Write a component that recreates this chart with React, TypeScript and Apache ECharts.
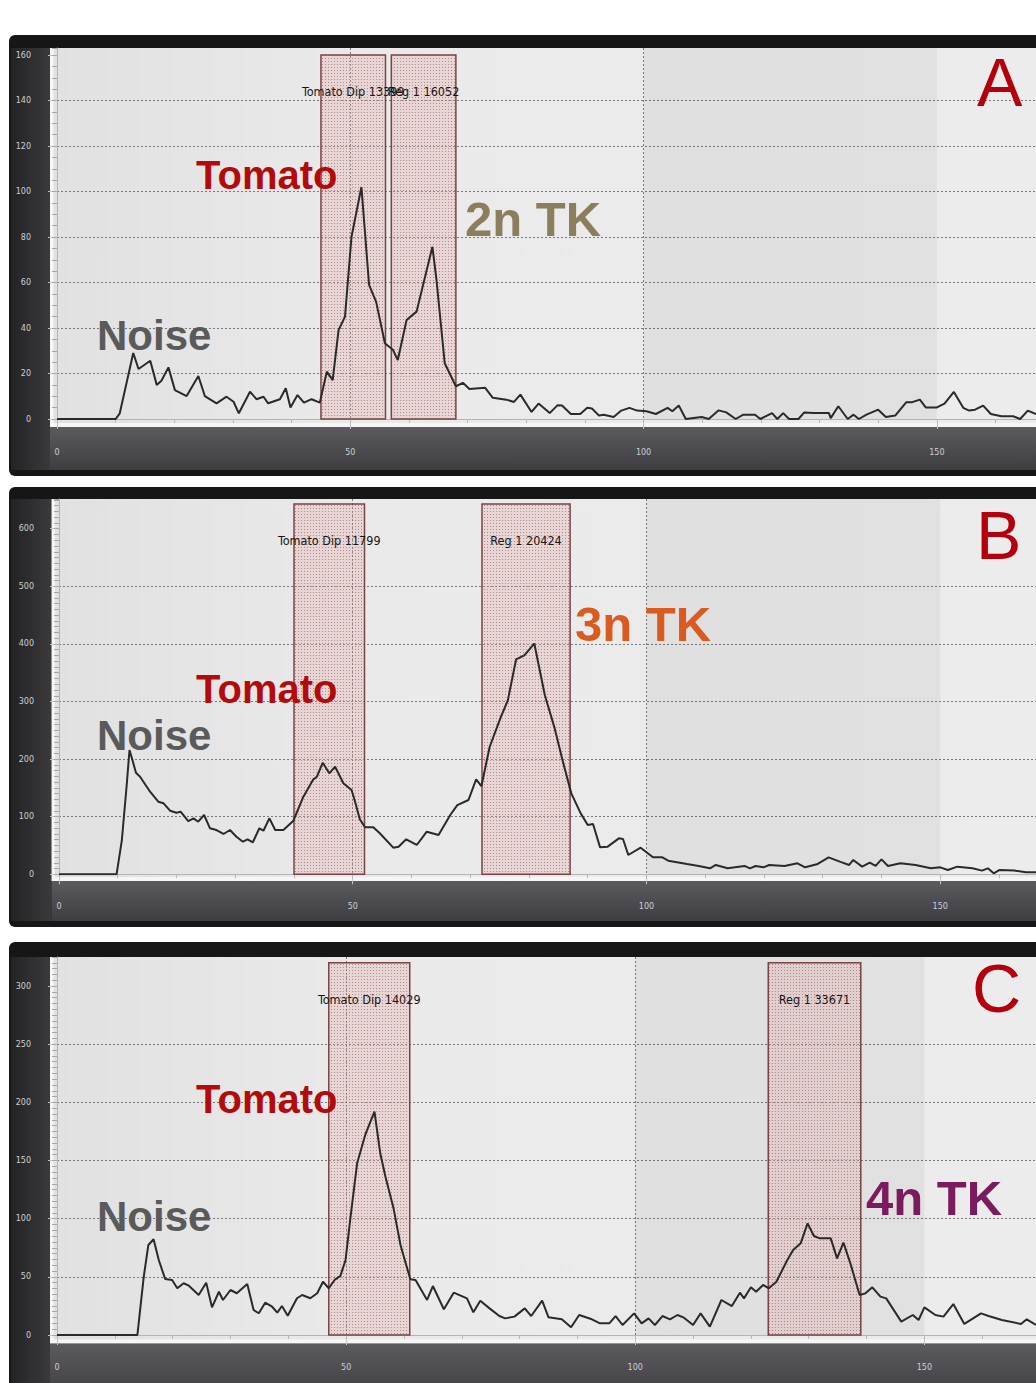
import { useEffect, useRef } from 'react';
import * as echarts from 'echarts';

// ---------- DATA ----------
const histA: number[][] = [
  [0, 0], [10, 0], [10.7, 2.5], [13, 29], [13.9, 22], [15.9, 25.6], [17, 15], [17.8, 16.8], [19, 22.7], [20.1, 12.7],
  [22.1, 10.1], [24.1, 18.9], [25.2, 10.1], [27.2, 6.9], [28.9, 9.8], [30.1, 7.6], [31, 2.5], [32.9, 12], [34, 8.7],
  [35.2, 9.8], [36, 6.9], [38, 8.7], [39, 13.5], [39.8, 5.1], [41, 10.5], [42.1, 7.2], [43.4, 8.7], [44.8, 7.2],
  [46, 20.8], [47, 17.1], [48, 39.1], [49.1, 45], [50.2, 80], [51.9, 102], [53.2, 59], [54.4, 51.6], [55.9, 33.3],
  [57.3, 30.3], [58.1, 25.9], [59.6, 43.5], [61.3, 47.2], [64, 75.7], [64.7, 61], [66.1, 24.5], [68, 14.4],
  [69.2, 15.9], [70.3, 13.2], [73, 13.7], [74.3, 9.3], [76.6, 8.5], [77.9, 7.5], [79, 10.7], [80.9, 3.1], [82.1, 6.8],
  [84, 2.6], [85.3, 6], [86.1, 5.9], [87.6, 2.2], [89.2, 2.2], [90.4, 4.9], [91.2, 4.6], [92.4, 1.5], [93.2, 1.9],
  [94.9, 0.9], [96.2, 3.7], [97.6, 4.9], [98.9, 3.7], [100.5, 3.4], [102.1, 2.2], [104.1, 4.9], [104.9, 3.4],
  [106, 5.9], [107.2, 0], [109.9, 0.9], [111.1, 0], [112.8, 3.8], [114.1, 2.9], [115.7, 0], [117, 1.9], [119, 1.9],
  [119.9, 0], [121.9, 2.6], [122.8, 0], [123.8, 2.6], [124.8, 0], [126.4, 0], [127.4, 2.9], [129, 2.6], [131.6, 2.6],
  [131.9, 0.4], [133.2, 5.6], [134.8, 0], [135.8, 1.9], [136.7, 0], [138, 1.9], [140, 4.1], [141.3, 0.9], [142.9, 1.5],
  [144.8, 7.4], [145.8, 7.4], [147.1, 8.5], [148.1, 5.1], [150, 5.1], [151.3, 6.8], [152.9, 11.9], [154.5, 4.9],
  [155.5, 3.7], [156.5, 4.1], [157.9, 5.9], [159.2, 2.2], [161, 1.2], [163, 1.2], [164.2, 0], [165.5, 3.7], [166.9, 2.2],
];

const histB: number[][] = [
  [0, 0], [9.8, 0], [10.7, 59.5], [11.5, 152], [12, 215.8], [12.5, 198.4], [13.1, 176.4], [13.8, 169.4], [15.5, 143.4],
  [16.9, 126], [17.8, 123.3], [18.9, 110.4], [20, 107], [20.7, 108.7], [22, 92.5], [22.9, 97.2], [23.7, 91.3],
  [24.7, 103], [25.7, 79.9], [26.8, 76.9], [28, 70], [29.1, 76.9], [30.2, 65.3], [31.3, 56.6], [32.1, 60.8], [33, 55.6],
  [34.1, 79.9], [34.8, 75.7], [35.8, 97.2], [36.8, 76.9], [38.2, 76.9], [39.9, 93.1], [41.6, 134.7], [43.3, 164.9],
  [43.9, 169.4], [44.9, 193.8], [46, 175.3], [47, 186.8], [48.4, 158], [49.8, 146.4], [50.4, 126], [51.2, 95.5],
  [52.1, 81.6], [53.5, 81.6], [54.6, 71.2], [56.9, 46.2], [57.8, 47.9], [59.1, 60.8], [60.9, 50.9], [62.6, 74],
  [64.6, 68.2], [66.6, 103], [67.8, 120], [69.7, 129], [71, 164.8], [71.9, 153], [73.3, 221], [75.2, 273], [76.4, 302],
  [77.8, 373], [79.2, 380], [80.9, 400.6], [82.7, 311], [84.3, 256], [85.7, 198.3], [87.2, 140.5], [88.8, 105.8],
  [90, 85.5], [90.9, 87.3], [92.1, 46.8], [93.4, 48], [95.3, 62.4], [96, 61.3], [96.9, 33.5], [99, 46.2], [101.1, 29.5],
  [102.7, 29.5], [103.7, 23.7], [106.9, 17.9], [108.9, 14.5], [110.8, 10.4], [111.8, 16.2], [113.8, 10.4],
  [116.7, 14.5], [117.6, 10.4], [118.6, 14.5], [119.9, 12.1], [120.9, 16.2], [123.5, 14.5], [125.7, 19.1], [127, 12.1],
  [129, 17.3], [131, 29.5], [132.9, 22], [134.5, 16.2], [135.2, 24.9], [136.7, 13.3], [138, 20.2], [139, 14.5],
  [140, 26], [141.1, 14.5], [143.2, 19.1], [145.8, 16.2], [148.4, 10.4], [150, 12.1], [151.3, 7.5], [152.9, 13.3],
  [155.5, 10.4], [157.1, 6.4], [158.1, 10.4], [159.1, 1.7], [160.1, 7.5], [162.6, 6.4], [164.6, 3.5], [166.3, 3.5],
];

const histC: number[][] = [
  [0, 0], [13.9, 0], [15, 50], [15.8, 77.4], [16.7, 82.3], [17.6, 64.5], [18.7, 48.2], [19.9, 47.3], [20.8, 40.2],
  [21.9, 44.5], [22.8, 42.4], [24.5, 34.4], [25.8, 45], [26.8, 23.8], [28, 37.2], [28.7, 30.1], [30, 38.7], [31.1, 35.9],
  [32.9, 43.9], [34, 21.5], [34.9, 18.7], [36, 27.8], [37.2, 24.3], [38.1, 19.2], [38.9, 24.9], [39.9, 16.6],
  [41.5, 31.6], [42.4, 34.4], [43.8, 31.6], [45, 35.9], [46, 45.8], [47, 40.2], [48.1, 47.9], [49, 50.7], [49.9, 64.5],
  [50.7, 98.9], [51.9, 147.6], [53.3, 172], [54.9, 192], [55.9, 156.2], [56.8, 136.1], [58.2, 108.9], [59.4, 77.4],
  [61.1, 47.9], [62, 47.3], [64, 30.1], [65, 42.1], [66.9, 22.1], [68.6, 36.4], [70.9, 31.5], [72, 19.5], [73.2, 29.5],
  [74.8, 22.9], [76.5, 16.3], [77.5, 14.3], [79.1, 15.8], [80.9, 22.9], [82, 16.3], [83.9, 29.5], [85, 15.2],
  [87.3, 13.5], [88.9, 6.6], [90.3, 17.2], [92.5, 13.5], [93.9, 10], [95.5, 10], [96.6, 16.3], [97.8, 8.6],
  [99.8, 18.6], [101.1, 10], [102.3, 14.3], [103.4, 8.6], [104.7, 16.3], [106, 13.5], [107.3, 17.2], [108.3, 15.2],
  [110, 8.6], [111.3, 18.6], [112.9, 7.2], [114.9, 30.1], [116.7, 24.9], [118.1, 36.4], [118.8, 31.5], [120, 41],
  [120.9, 37.2], [122.1, 43], [123.1, 40.1], [124.4, 45.8], [126.3, 64.5], [127.3, 73.1], [128.6, 78.8], [129.8, 96],
  [130.9, 85.1], [131.9, 83.1], [133.8, 83.1], [134.9, 65.9], [136, 79.4], [137.2, 61.6], [138.8, 34.4], [139.8, 35.8],
  [141, 41], [142.4, 33], [143.4, 31.5], [146, 11.5], [148, 17.2], [149, 12.9], [150, 23.8], [151.9, 17.2],
  [153.3, 15.8], [155, 26.6], [156.9, 9.5], [159.8, 18.6], [161.1, 16.3], [163.4, 12.9], [166.7, 9.5], [167.7, 13.5],
  [169.3, 8.6],
];

const xTickLabels = [0, 50, 100, 150];
const yTickLabelsA = [0, 20, 40, 60, 80, 100, 120, 140, 160];
const yTickLabelsB = [0, 100, 200, 300, 400, 500, 600];
const yTickLabelsC = [0, 50, 100, 150, 200, 250, 300];

const regionNamesA = ['Tomato Dip 13399', 'Reg 1 16052'];
const regionRangesA = [[45, 56], [57, 68]];
const regionTopA = 160;
const regionNamesB = ['Tomato Dip 11799', 'Reg 1 20424'];
const regionRangesB = [[40, 52], [72, 87]];
const regionTopB = 643;
const regionNamesC = ['Tomato Dip 14029', 'Reg 1 33671'];
const regionRangesC = [[47, 61], [123, 139]];
const regionTopC = 320;

const shadedBand = [100, 150];

// ---------- LAYOUT ----------
const PANELS = [
  {
    data: histA, yTicks: yTickLabelsA, names: regionNamesA, ranges: regionRangesA, top: regionTopA,
    gridLeft: 57, gridTop: 48, gridWidth: 979, gridHeight: 371, yMax: 163.1, xMax: 166.9, yStep: 20, yMinor: 5,
    yOffset: 13, xOffset: 13, xLabelMargin: 16, frameTop: 35, frameBottom: 476, plotBottom: 423, bandBottom: 470, whiteLeft: 50,
  },
  {
    data: histB, yTicks: yTickLabelsB, names: regionNamesB, ranges: regionRangesB, top: regionTopB,
    gridLeft: 59, gridTop: 499, gridWidth: 977, gridHeight: 375.3, yMax: 651.6, xMax: 166.3, yStep: 100, yMinor: 10,
    yOffset: 12, xOffset: 11, xLabelMargin: 17, frameTop: 487, frameBottom: 927, plotBottom: 877, bandBottom: 921, whiteLeft: 51.5,
  },
  {
    data: histC, yTicks: yTickLabelsC, names: regionNamesC, ranges: regionRangesC, top: regionTopC,
    gridLeft: 57, gridTop: 957, gridWidth: 979, gridHeight: 378, yMax: 325, xMax: 169.3, yStep: 50, yMinor: 5,
    yOffset: 13, xOffset: 12, xLabelMargin: 16, frameTop: 942, frameBottom: 1400, plotBottom: 1339.5, bandBottom: 1400, whiteLeft: 50,
  },
];

const BIG_FONT = '"Liberation Sans", Arial, sans-serif';
const ANNOTATIONS = [
  { text: 'Tomato', x: 196, y: 175, size: 40, weight: 'bold', color: '#b30b0b' },
  { text: 'Noise', x: 97, y: 335, size: 42, weight: 'bold', color: '#5a5a5a' },
  { text: '2n TK', x: 465, y: 219, size: 49, weight: 'bold', color: '#8b7e5c' },
  { text: 'A', x: 977, y: 82, size: 68, weight: 'normal', color: '#b3000c' },
  { text: 'Tomato', x: 196, y: 689, size: 40, weight: 'bold', color: '#b30b0b' },
  { text: 'Noise', x: 97, y: 735, size: 42, weight: 'bold', color: '#5a5a5a' },
  { text: '3n TK', x: 575, y: 624, size: 49, weight: 'bold', color: '#d95b1f' },
  { text: 'B', x: 976, y: 535, size: 68, weight: 'normal', color: '#b3000c' },
  { text: 'Tomato', x: 196, y: 1099, size: 40, weight: 'bold', color: '#b30b0b' },
  { text: 'Noise', x: 97, y: 1216, size: 42, weight: 'bold', color: '#5a5a5a' },
  { text: '4n TK', x: 866, y: 1198, size: 49, weight: 'bold', color: '#7b1a5c' },
  { text: 'C', x: 972, y: 988, size: 68, weight: 'normal', color: '#b3000c' },
];

function makePattern() {
  const c = document.createElement('canvas');
  c.width = 3;
  c.height = 3;
  const ctx = c.getContext('2d');
  if (ctx) {
    ctx.fillStyle = 'rgba(222,170,170,0.30)';
    ctx.fillRect(0, 0, 3, 3);
    ctx.fillStyle = 'rgba(160,80,80,0.60)';
    ctx.fillRect(1, 1, 1, 1);
  }
  return { image: c.toDataURL(), repeat: 'repeat', imageWidth: 3, imageHeight: 3 } as any;
}

export default function App() {
  const ref = useRef<HTMLDivElement>(null);

  useEffect(() => {
    if (!ref.current) return;
    const chart = echarts.init(ref.current, undefined, { renderer: 'svg' });
    const pattern = makePattern();

    const grids: any[] = [];
    const xAxes: any[] = [];
    const yAxes: any[] = [];
    const series: any[] = [];
    const graphics: any[] = [];

    PANELS.forEach((p, i) => {
      grids.push({ left: p.gridLeft, top: p.gridTop, width: p.gridWidth, height: p.gridHeight, containLabel: false });

      xAxes.push({
        type: 'value', gridIndex: i, min: 0, max: p.xMax, interval: 50, position: 'bottom', offset: p.xOffset,
        axisLine: { show: true, lineStyle: { color: '#b4b4b8', width: 1 } },
        axisTick: { show: true, length: 10, lineStyle: { color: '#c4c4c8' }, customValues: xTickLabels },
        axisLabel: {
          show: true, fontSize: 8, color: '#cfcfd2', margin: p.xLabelMargin, fontFamily: 'DejaVu Sans, sans-serif',
          customValues: xTickLabels,
          formatter: (v: number) => (Math.abs(v % 50) < 1e-6 ? String(v) : ''),
        },
        splitLine: { show: true, showMaxLine: false, lineStyle: { color: '#7a7a7a', width: 1, type: [2, 2] } },
      });
      xAxes.push({
        type: 'value', gridIndex: i, min: 0, max: p.xMax, interval: 10, position: 'bottom', offset: p.xOffset,
        axisLine: { show: false },
        axisTick: { show: true, length: 4, lineStyle: { color: '#b8b8bc' } },
        axisLabel: { show: false },
        splitLine: { show: false },
      });
      yAxes.push({
        type: 'value', gridIndex: i, min: 0, max: p.yMax, interval: p.yStep, position: 'left', offset: p.yOffset,
        axisLine: { show: true, lineStyle: { color: '#b4b4b8', width: 1 } },
        axisTick: { show: true, length: 9, lineStyle: { color: '#c4c4c8' }, customValues: p.yTicks },
        axisLabel: {
          show: true, fontSize: 8, color: '#cfcfd2', margin: 13, fontFamily: 'DejaVu Sans, sans-serif',
          customValues: p.yTicks,
          formatter: (v: number) => (Math.abs(v % p.yStep) < 1e-6 ? String(v) : ''),
        },
        splitLine: { show: true, showMaxLine: false, lineStyle: { color: '#7a7a7a', width: 1, type: [2, 2] } },
      });
      yAxes.push({
        type: 'value', gridIndex: i, min: 0, max: p.yMax, interval: p.yMinor, position: 'left', offset: p.yOffset,
        axisLine: { show: false },
        axisTick: { show: true, length: 5, lineStyle: { color: '#a8a8ac' } },
        axisLabel: { show: false },
        splitLine: { show: false },
      });

      const areaData: any[] = [
        [
          { name: '', xAxis: shadedBand[0], itemStyle: { color: 'rgba(0,0,0,0.045)', borderWidth: 0 }, label: { show: false } },
          { xAxis: shadedBand[1] },
        ],
      ];
      p.ranges.forEach((r, k) => {
        areaData.push([
          { name: p.names[k], xAxis: r[0], yAxis: 0, itemStyle: { color: pattern, borderColor: '#7b4343', borderWidth: 1.5 } },
          { xAxis: r[1], yAxis: p.top },
        ]);
      });

      series.push({
        type: 'line',
        xAxisIndex: i * 2,
        yAxisIndex: i * 2,
        data: p.data,
        showSymbol: false,
        symbol: 'none',
        lineStyle: { color: '#2a2a2a', width: 2 },
        z: 5,
        markArea: {
          silent: true,
          label: {
            show: true, position: 'insideTop', distance: 31, color: '#161616', fontSize: 12.5,
            fontFamily: '"DejaVu Sans Condensed", "DejaVu Sans", sans-serif',
          },
          data: areaData,
        },
      });

      const plotTop = p.gridTop;
      graphics.push(
        { type: 'rect', z: -20, shape: { x: 9, y: p.frameTop, width: 1040, height: p.frameBottom - p.frameTop, r: 6 }, style: { fill: '#161617' } },
        {
          type: 'rect', z: -19, shape: { x: 11, y: plotTop, width: p.whiteLeft - 11, height: p.bandBottom - plotTop },
          style: { fill: { type: 'linear', x: 0, y: 0, x2: 1, y2: 0, colorStops: [{ offset: 0, color: '#232325' }, { offset: 1, color: '#3a3a3d' }] } },
        },
        {
          type: 'rect', z: -19, shape: { x: p.whiteLeft, y: p.plotBottom + 4, width: 1040, height: p.bandBottom - p.plotBottom - 4 },
          style: { fill: { type: 'linear', x: 0, y: 0, x2: 0, y2: 1, colorStops: [{ offset: 0, color: '#5a5a5f' }, { offset: 1, color: '#3e3e42' }] } },
        },
        { type: 'rect', z: -18, shape: { x: p.whiteLeft, y: plotTop, width: 1040, height: p.plotBottom + 4 - plotTop }, style: { fill: '#f6f6f6' } },
        {
          type: 'rect', z: -17, shape: { x: p.whiteLeft + 3.5, y: plotTop, width: 1040, height: p.plotBottom - plotTop },
          style: { fill: { type: 'linear', x: 0, y: 0, x2: 1, y2: 0, colorStops: [{ offset: 0, color: '#e1e1e1' }, { offset: 0.3, color: '#eaeaea' }, { offset: 1, color: '#ececec' }] } },
        },
      );
    });

    ANNOTATIONS.forEach((a) => {
      graphics.push({
        type: 'text', z: 100, x: a.x, y: a.y,
        style: {
          text: a.text, fill: a.color, fontSize: a.size, fontWeight: a.weight, fontFamily: BIG_FONT,
          align: 'left', verticalAlign: 'middle',
        },
      });
    });

    chart.setOption({
      animation: false,
      backgroundColor: '#ffffff',
      grid: grids,
      xAxis: xAxes,
      yAxis: yAxes,
      series,
      graphic: { elements: graphics },
    });

    return () => chart.dispose();
  }, []);

  return <div ref={ref} style={{ position: 'absolute', left: 0, top: 0, width: 1036, height: 1383 }} />;
}
